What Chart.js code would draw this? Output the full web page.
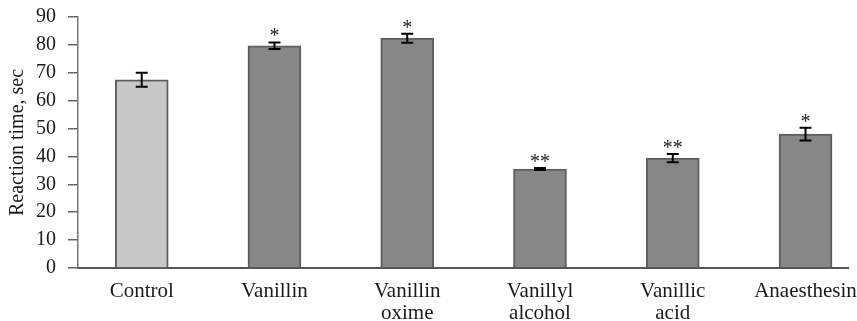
<!DOCTYPE html>
<html>
<head>
<meta charset="utf-8">
<script src="https://cdn.jsdelivr.net/npm/chart.js@4/dist/chart.umd.min.js"></script>
<style>
  html, body { margin: 0; padding: 0; background: #fff; }
  #wrap { width: 857px; height: 321px; position: relative; }
</style>
</head>
<body>
<div id="wrap"><canvas id="c" width="857" height="321"></canvas></div>
<script>
const categories = ["Control", "Vanillin", ["Vanillin", "oxime"], ["Vanillyl", "alcohol"], ["Vanillic", "acid"], "Anaesthesin"];
const reactionTime = [67.5, 79.7, 82.4, 35.5, 39.4, 48.0];
const errors = [2.5, 1.2, 1.6, 0.4, 1.5, 2.3];
const significance = ["", "*", "*", "**", "**", "*"];
const yTicks = [0, 10, 20, 30, 40, 50, 60, 70, 80, 90];

const FONT = "'Liberation Serif', 'Times New Roman', serif";
const barFill = categories.map((c, i) => i === 0 ? '#c8c8c8' : '#878787');

const errorPlugin = {
  id: 'errorBars',
  afterDatasetsDraw(chart) {
    const ctx = chart.ctx;
    const xs = chart.scales.x, ys = chart.scales.y;
    ctx.save();
    ctx.strokeStyle = '#000';
    ctx.lineWidth = 2;
    reactionTime.forEach((v, i) => {
      const x = xs.getPixelForValue(i);
      const top = ys.getPixelForValue(v + errors[i]);
      const bot = ys.getPixelForValue(v - errors[i]);
      const cap = 6;
      ctx.beginPath();
      ctx.moveTo(x, top); ctx.lineTo(x, bot);
      ctx.moveTo(x - cap, top); ctx.lineTo(x + cap, top);
      ctx.moveTo(x - cap, bot); ctx.lineTo(x + cap, bot);
      ctx.stroke();
      if (significance[i]) {
        ctx.fillStyle = '#1a1a1a';
        ctx.font = '20px ' + FONT;
        ctx.textAlign = 'center';
        ctx.textBaseline = 'alphabetic';
        ctx.fillText(significance[i], x, top);
      }
    });
    ctx.restore();
  }
};

new Chart(document.getElementById('c'), {
  type: 'bar',
  data: {
    datasets: [{
      data: reactionTime.map((v, i) => ({ x: i, y: v })),
      backgroundColor: barFill,
      borderColor: '#5e5e5e',
      borderWidth: 2,
      barThickness: 53,
      borderSkipped: 'bottom'
    }]
  },
  options: {
    responsive: false,
    animation: false,
    layout: { padding: { top: 17, right: 9, left: 0, bottom: 0 } },
    plugins: { legend: { display: false }, tooltip: { enabled: false } },
    scales: {
      x: {
        type: 'linear',
        offset: false,
        min: -0.48,
        max: 5.32,
        grid: { display: false, drawTicks: false },
        border: { display: true, color: '#555', width: 2 },
        ticks: {
          includeBounds: false,
          stepSize: 1,
          autoSkip: false,
          maxRotation: 0,
          padding: 12,
          color: '#1a1a1a',
          font: { family: FONT, size: 21, lineHeight: 1.05 },
          callback: (v) => Number.isInteger(v) && v >= 0 && v < categories.length ? categories[v] : ''
        },
        afterFit(s) { s.height = 53; s.paddingLeft = 0; s.paddingRight = 0; }
      },
      y: {
        min: 0,
        max: 90,
        afterBuildTicks(s) { s.ticks = yTicks.map(v => ({ value: v })); },
        grid: { drawOnChartArea: false, drawTicks: true, tickLength: 10, color: '#666', lineWidth: 1.5 },
        border: { display: true, color: '#777', width: 1.5 },
        ticks: {
          padding: 12,
          color: '#1a1a1a',
          font: { family: FONT, size: 20 }
        },
        title: {
          display: true,
          text: 'Reaction time, sec',
          color: '#1a1a1a',
          font: { family: FONT, size: 20 },
          padding: { top: 6, bottom: 0 }
        },
        afterFit(s) { s.width = 78; s.paddingTop = 0; s.paddingBottom = 0; }
      }
    }
  },
  plugins: [errorPlugin]
});
</script>
</body>
</html>
